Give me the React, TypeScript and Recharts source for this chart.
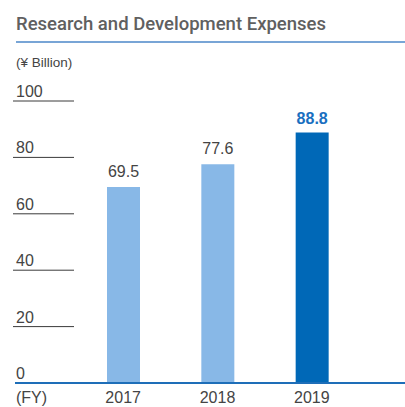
import React from 'react';
import { BarChart, Bar, XAxis, YAxis, Cell, LabelList } from 'recharts';

const years = ['2017', '2018', '2019'];
const expenses = [69.5, 77.6, 88.8];
const yTicks = [0, 20, 40, 60, 80, 100];
const barColors = ['#88b8e7', '#88b8e7', '#0068b7'];

const data = years.map((y, i) => ({ year: y, value: expenses[i] }));
const FONT = '"Liberation Sans", Arial, sans-serif';
const highlight = expenses[expenses.length - 1];

const YTick = (props: any) => {
  const { y, payload } = props;
  return (
    <g>
      {payload.value !== 0 && (
        <line x1={13} x2={74} y1={y} y2={y} stroke="#3a3a3a" strokeWidth={1} />
      )}
      <text x={16} y={y - 4} fontSize={16} fill="#444" fontFamily={FONT} textAnchor="start">
        {payload.value}
      </text>
    </g>
  );
};

const XTick = (props: any) => {
  const { x, payload } = props;
  return (
    <text x={x} y={403} fontSize={16} fill="#444" fontFamily={FONT} textAnchor="middle">
      {payload.value}
    </text>
  );
};

const ValueLabel = (props: any) => {
  const { x, y, width, value } = props;
  const hi = value === highlight;
  return (
    <text
      x={x + width / 2}
      y={y - (hi ? 9 : 10)}
      fontSize={16}
      fontWeight={hi ? 'bold' : 'normal'}
      fill={hi ? '#1a6fc0' : '#444'}
      fontFamily={FONT}
      textAnchor="middle"
    >
      {value}
    </text>
  );
};

export default function App() {
  return (
    <div style={{ position: 'absolute', left: 0, top: 0, width: 405, height: 407, background: '#fff' }}>
      <BarChart
        width={405}
        height={407}
        data={data}
        margin={{ top: 101, right: 0, left: 14, bottom: 0 }}
      >
        <XAxis
          dataKey="year"
          height={24}
          axisLine={{ stroke: '#1e6eb8', strokeWidth: 2 }}
          tickLine={false}
          tick={<XTick />}
          padding={{ left: 61, right: 46 }}
        />
        <YAxis
          domain={[0, 100]}
          ticks={yTicks}
          width={1}
          axisLine={false}
          tickLine={false}
          tick={<YTick />}
          interval={0}
        />
        <Bar dataKey="value" barSize={33} isAnimationActive={false}>
          {data.map((d, i) => (
            <Cell key={d.year} fill={barColors[i]} />
          ))}
          <LabelList dataKey="value" content={<ValueLabel />} />
        </Bar>
      </BarChart>
      <svg
        width={405}
        height={407}
        style={{ position: 'absolute', left: 0, top: 0, pointerEvents: 'none' }}
      >
        <text x={16} y={30} fontSize={18.5} fontWeight={500} fill="#606060" fontFamily="Roboto, sans-serif">
          Research and Development Expenses
        </text>
        <line x1={16} x2={405} y1={42} y2={42} stroke="#78a5d6" strokeWidth={2} />
        <text x={16} y={67} fontSize={13.5} fill="#444" fontFamily={FONT}>
          (¥ Billion)
        </text>
        <text x={16} y={403} fontSize={16} fill="#444" fontFamily={FONT}>
          (FY)
        </text>
      </svg>
    </div>
  );
}
